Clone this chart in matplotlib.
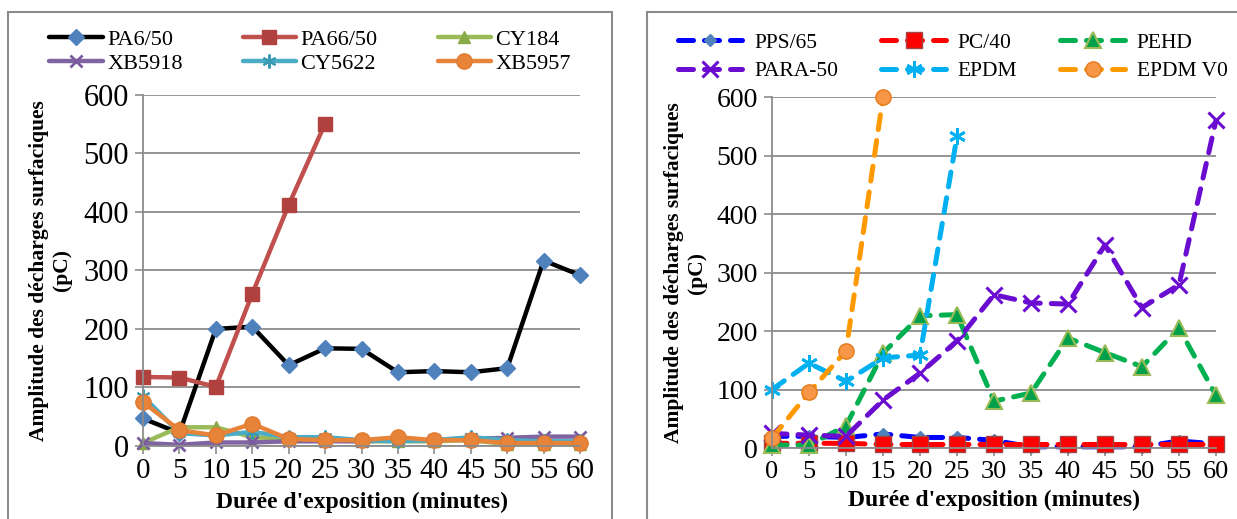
import matplotlib.pyplot as plt
from matplotlib.patches import Rectangle

plt.rcParams['font.family'] = ['Liberation Serif', 'DejaVu Serif']

# durée d'exposition (minutes)
minutes = [0, 5, 10, 15, 20, 25, 30, 35, 40, 45, 50, 55, 60]
tick_labels = [str(m) for m in minutes]

# graphe de gauche
pa6_50 = [47, 22, 200, 204, 138, 167, 166, 126, 128, 126, 133, 317, 292]
pa66_50 = [118, 117, 101, 260, 412, 551]
cy184 = [5, 32, 32, 15, 12, 10, 8, 8, 8, 10, 3, 3, 3]
xb5918 = [5, 2, 6, 6, 8, 8, 8, 10, 10, 12, 14, 16, 16]
cy5622 = [85, 22, 18, 24, 15, 15, 10, 8, 10, 15, 10, 8, 8]
xb5957 = [75, 27, 18, 38, 12, 10, 10, 15, 10, 10, 5, 5, 5]

# graphe de droite
pps65 = [20, 20, 18, 24, 18, 18, 13, 2, 2, 2, 2, 12, 7]
pc40 = [8, 8, 8, 6, 6, 6, 6, 6, 6, 6, 6, 6, 6]
pehd = [5, 5, 38, 162, 226, 228, 80, 94, 188, 163, 139, 205, 90]
para50 = [25, 22, 20, 82, 128, 183, 262, 248, 246, 347, 240, 279, 560]
epdm = [100, 145, 114, 154, 159, 533]
epdm_v0 = [17, 95, 166, 600]

fig = plt.figure(figsize=(12.37, 5.19), dpi=100)

# cadres des deux graphes
fig.add_artist(Rectangle((0.0065, -0.02), 0.488, 0.997, transform=fig.transFigure,
                         fill=False, edgecolor='#8c8c8c', lw=1.5))
fig.add_artist(Rectangle((0.523, -0.02), 0.49, 0.997, transform=fig.transFigure,
                         fill=False, edgecolor='#8c8c8c', lw=1.5))

ax1 = fig.add_axes([0.1156, 0.1407, 0.3533, 0.6763])
ax2 = fig.add_axes([0.6241, 0.1368, 0.3589, 0.6763])


def style_axes(ax, xfs, yfs, ylab_x):
    ax.set_xlim(0, 60)
    ax.set_ylim(0, 600)
    ax.set_xticks(minutes)
    ax.set_xticklabels(tick_labels)
    ax.set_yticks(range(0, 601, 100))
    ax.grid(axis='y', color='#8c8c8c', lw=1.3)
    ax.set_axisbelow(True)
    for s in ['top', 'right']:
        ax.spines[s].set_visible(False)
    for s in ['left', 'bottom']:
        ax.spines[s].set_color('#8c8c8c')
        ax.spines[s].set_linewidth(1.3)
    ax.tick_params(axis='both', colors='#8c8c8c', labelcolor='black', length=6,
                   width=1.2)
    ax.tick_params(axis='x', labelsize=xfs, pad=3)
    ax.tick_params(axis='y', labelsize=yfs, pad=4)
    ax.set_xlabel("Durée d'exposition (minutes)", fontsize=17, fontweight='bold', labelpad=5)
    ax.set_ylabel('Amplitude des décharges surfaciques\n(pC)', fontsize=15.5,
                  fontweight='bold', linespacing=1.2)
    ax.yaxis.set_label_coords(ylab_x, 0.5)


style_axes(ax1, 21, 22, -0.163)
style_axes(ax2, 19, 20, -0.146)

lw = 3.2
h = []
h += ax1.plot(minutes, pa6_50, color='black', lw=lw, marker='D', ms=8,
              mfc='#4F81BD', mec='#4F81BD', label='PA6/50')
h += ax1.plot(minutes[:len(pa66_50)], pa66_50, color='#C0504D', lw=lw, marker='s', ms=10,
              mfc='#B0413E', mec='#B0413E', label='PA66/50')
h += ax1.plot(minutes, cy184, color='#9BBB59', lw=lw, marker='^', ms=9,
              mfc='#8AAA48', mec='#8AAA48', label='CY184')
h += ax1.plot(minutes, xb5918, color='#8064A2', lw=lw, marker='x', ms=9, mew=2,
              mec='#7A5C9E', label='XB5918')
h += ax1.plot(minutes, cy5622, color='#4BACC6', lw=lw, marker=(6, 2, 0), ms=10, mew=1.5,
              mec='#3A9AB4', label='CY5622')
h += ax1.plot(minutes, xb5957, color='#E8843A', lw=lw, marker='o', ms=11,
              mfc='#E8843A', mec='#E07B30', label='XB5957')
for l in h:
    l.set_clip_on(False)
    l.set_solid_capstyle('round')
    l.set_solid_joinstyle('round')

order = [0, 3, 1, 4, 2, 5]
ax1.legend([h[i] for i in order], [h[i].get_label() for i in order], ncol=3,
           loc='center left', bbox_to_anchor=(0.040, 0.900), bbox_transform=fig.transFigure,
           frameon=False, fontsize=16, handlelength=2.4, handletextpad=0.2,
           columnspacing=2.7, labelspacing=0.15, borderaxespad=0, borderpad=0)

lw2 = 3.6
dash = (3.0, 2.2)
g = []
g += ax2.plot(minutes, pps65, color='#0000FF', lw=lw2, dashes=dash, marker='D', ms=6,
              mfc='#4F81BD', mec='#4F81BD', label='PPS/65')
g += ax2.plot(minutes, pc40, color='#FF0000', lw=lw2, dashes=dash, marker='s', ms=11,
              mfc='#FF0000', mec='#A04545', mew=1, label='PC/40')
g += ax2.plot(minutes, pehd, color='#00B050', lw=lw2, dashes=dash, marker='^', ms=11,
              mfc='#00A04A', mec='#9BBB59', mew=1.5, label='PEHD')
g += ax2.plot(minutes, para50, color='#6A0DD0', lw=lw2, dashes=dash, marker='x', ms=11,
              mew=2.2, mec='#6A0DD0', label='PARA-50')
g += ax2.plot(minutes[:len(epdm)], epdm, color='#00B0F0', lw=lw2, dashes=dash,
              marker=(6, 2, 0), ms=12, mew=2, mec='#00B0F0', label='EPDM')
g += ax2.plot(minutes[:len(epdm_v0)], epdm_v0, color='#FF9900', lw=lw2, dashes=dash,
              marker='o', ms=11, mfc='#F79646', mec='#E47A1A', label='EPDM V0')
for l in g:
    l.set_clip_on(False)
    l.set_dash_capstyle('round')
    l.set_dash_joinstyle('round')

ax2.legend([g[i] for i in order], [g[i].get_label() for i in order], ncol=3,
           loc='center left', bbox_to_anchor=(0.548, 0.890), bbox_transform=fig.transFigure,
           frameon=False, fontsize=15.5, handlelength=3.0, handletextpad=0.55,
           columnspacing=2.0, labelspacing=0.4, borderaxespad=0, borderpad=0)

fig.savefig('out.png', dpi=100)
